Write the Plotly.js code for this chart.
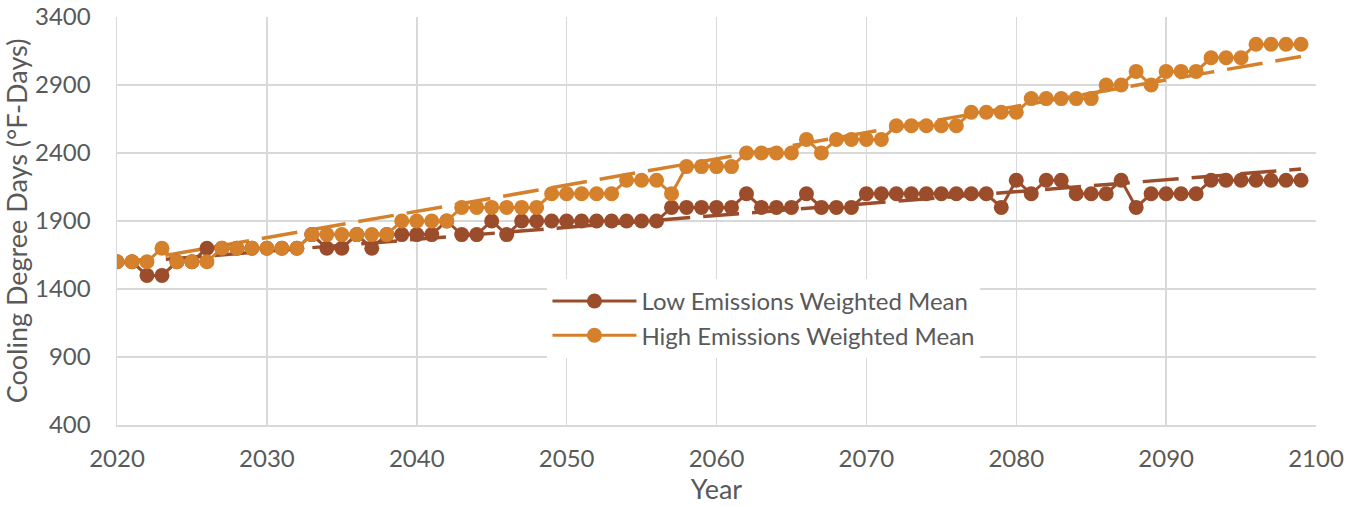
<!DOCTYPE html>
<html>
<head>
<meta charset="utf-8">
<script src="https://cdn.plot.ly/plotly-3.0.1.min.js"></script>
<style>html,body{margin:0;padding:0;background:#fff;}#chart{width:1360px;height:506px;}</style>
</head>
<body>
<div id="chart"></div>
<script>
// Years 2020..2099
const years = [];
for (let y = 2020; y <= 2099; y++) years.push(y);

const lowEmissions = [
  1600,1600,1500,1500,1600,1600,1700,1700,1700,1700,
  1700,1700,1700,1800,1700,1700,1800,1700,1800,1800,
  1800,1800,1900,1800,1800,1900,1800,1900,1900,1900,
  1900,1900,1900,1900,1900,1900,1900,2000,2000,2000,
  2000,2000,2100,2000,2000,2000,2100,2000,2000,2000,
  2100,2100,2100,2100,2100,2100,2100,2100,2100,2000,
  2200,2100,2200,2200,2100,2100,2100,2200,2000,2100,
  2100,2100,2100,2200,2200,2200,2200,2200,2200,2200
];
const highEmissions = [
  1600,1600,1600,1700,1600,1600,1600,1700,1700,1700,
  1700,1700,1700,1800,1800,1800,1800,1800,1800,1900,
  1900,1900,1900,2000,2000,2000,2000,2000,2000,2100,
  2100,2100,2100,2100,2200,2200,2200,2100,2300,2300,
  2300,2300,2400,2400,2400,2400,2500,2400,2500,2500,
  2500,2500,2600,2600,2600,2600,2600,2700,2700,2700,
  2700,2800,2800,2800,2800,2800,2900,2900,3000,2900,
  3000,3000,3000,3100,3100,3100,3200,3200,3200,3200
];
// Trendline end values (at first and last year)
const trendYears = [2020, 2099];
const lowTrend = [1590, 2282];
const highTrend = [1585, 3110];

const seriesNames = ["Low Emissions Weighted Mean", "High Emissions Weighted Mean"];
const xTicks = [2020,2030,2040,2050,2060,2070,2080,2090,2100];
const yTicks = [400,900,1400,1900,2400,2900,3400];

const lowColor = "#9B4D2B";
const highColor = "#D5802B";

const traces = [
  {x: trendYears, y: lowTrend, mode: "lines", type: "scatter",
   line: {color: lowColor, width: 3.5, dash: "36px,13px"}, showlegend: false, hoverinfo: "skip"},
  {x: trendYears, y: highTrend, mode: "lines", type: "scatter",
   line: {color: highColor, width: 3.5, dash: "36px,13px"}, showlegend: false, hoverinfo: "skip"},
  {x: years, y: lowEmissions, name: seriesNames[0], mode: "lines+markers", type: "scatter",
   line: {color: lowColor, width: 3}, marker: {color: lowColor, size: 15}},
  {x: years, y: highEmissions, name: seriesNames[1], mode: "lines+markers", type: "scatter",
   line: {color: highColor, width: 3}, marker: {color: highColor, size: 15}}
];

const txt = "#595959";
const layout = {
  width: 1360, height: 506,
  margin: {l: 117, r: 44, t: 17, b: 81},
  paper_bgcolor: "#fff", plot_bgcolor: "#fff",
  font: {family: "Lato, 'Open Sans', sans-serif", color: txt, size: 24},
  xaxis: {
    range: [2020, 2100], tickvals: xTicks, ticktext: xTicks.map(String),
    showgrid: true, gridcolor: "#d9d9d9", gridwidth: 1.5,
    showline: true, linecolor: "#d9d9d9", linewidth: 1.5,
    zeroline: false, ticks: "", tickfont: {size: 24, color: txt},
    ticklabelstandoff: 12,
    title: {text: "Year", font: {size: 27, color: txt}, standoff: 4}
  },
  yaxis: {
    range: [400, 3400], tickvals: yTicks, ticktext: yTicks.map(String),
    showgrid: true, gridcolor: "#d9d9d9", gridwidth: 1.5,
    showline: true, linecolor: "#d9d9d9", linewidth: 1.5,
    zeroline: false, ticks: "", tickfont: {size: 24, color: txt},
    ticklabelstandoff: 20,
    title: {text: "Cooling Degree Days (°F-Days)", font: {size: 27, color: txt}, standoff: 4}
  },
  legend: {
    x: 0.359, y: 0.358, xanchor: "left", yanchor: "top",
    bgcolor: "#ffffff", borderwidth: 0,
    font: {size: 24, color: txt}, itemwidth: 84
  },
  showlegend: true
};

Plotly.newPlot("chart", traces, layout, {staticPlot: true, displayModeBar: false});
</script>
</body>
</html>
